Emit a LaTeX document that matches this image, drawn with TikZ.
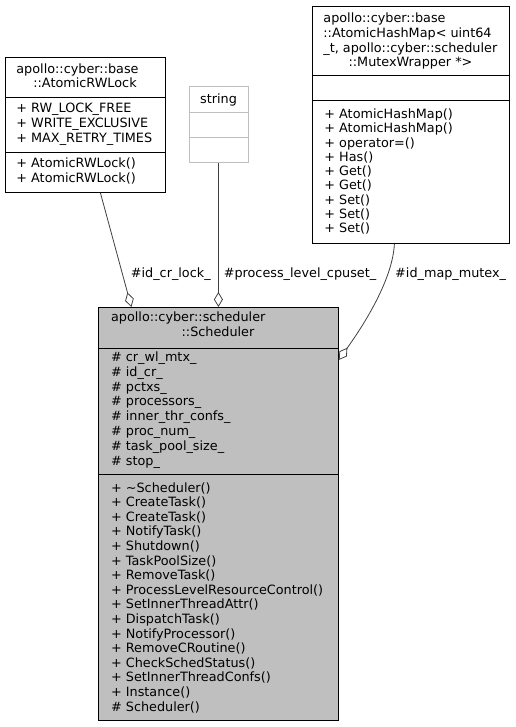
\documentclass[tikz,border=0pt]{standalone}
\usepackage{fontspec}
\setmainfont{DejaVu Sans}
\usetikzlibrary{arrows.meta,positioning}

\definecolor{boxgray}{HTML}{BFBFBF}
\definecolor{edgegray}{HTML}{404040}

\begin{document}
\begin{tikzpicture}[x=1pt, y=-1pt, line width=0.8pt,
    every node/.style={font=\fontsize{12.8}{15}\selectfont, inner sep=0pt},
    klass/.style={draw=black, fill=white, anchor=north west},
    member/.style={anchor=base west},
    title/.style={anchor=base},
    agg/.style={draw=edgegray, -{Diamond[open, length=15pt, width=9pt]}}]
   \useasboundingbox (0,0) rectangle (515,727);

   % class boxes
   \node[klass, minimum width=160pt, minimum height=135pt] (rwlock) at (5,57) {};
   \node[klass, draw=boxgray, minimum width=59pt, minimum height=76pt] (string) at (189,86) {};
   \node[klass, minimum width=197pt, minimum height=237pt] (hashmap) at (312,6) {};
   \node[klass, fill=boxgray, minimum width=240pt, minimum height=413pt] (sched) at (98,307) {};

   % compartments
   \draw (5,97) -- (165,97) (5,152) -- (165,152);
   \draw[boxgray] (189,112) -- (248,112) (189,137) -- (248,137);
   \draw (312,75) -- (509,75) (312,100) -- (509,100);
   \draw (98,348) -- (338,348) (98,474) -- (338,474);

   % AtomicRWLock
   \node[member] at (16,73.5) {apollo::cyber::base};
   \node[title] at (85,87.5) {::AtomicRWLock};
   \foreach \m [count=\i from 0] in {+ RW\_LOCK\_FREE, + WRITE\_EXCLUSIVE, + MAX\_RETRY\_TIMES}
      \node[member] at (16,{112.5+15*\i}) {\m};
   \foreach \m [count=\i from 0] in {+ AtomicRWLock(), + AtomicRWLock()}
      \node[member] at (16,{167.5+15*\i}) {\m};

   % string
   \node[title] at (218.5,103.5) {string};

   % AtomicHashMap
   \foreach \m [count=\i from 0] in {apollo::cyber::base, ::AtomicHashMap< uint64, {\_t, apollo::cyber::scheduler}}
      \node[member] at (323,{22.5+14.8*\i}) {\m};
   \node[title] at (410.5,66.9) {::MutexWrapper *>};
   \foreach \m [count=\i from 0] in {+ AtomicHashMap(), + AtomicHashMap(), + operator=(), + Has(),
         + Get(), + Get(), + Set(), + Set(), + Set()}
      \node[member] at (324,{118.5+14.3*\i}) {\m};

   % Scheduler
   \node[member] at (110.7,321.5) {apollo::cyber::scheduler};
   \node[title] at (218,336.5) {::Scheduler};
   \foreach \m [count=\i from 0] in {\# cr\_wl\_mtx\_, \# id\_cr\_, \# pctxs\_, \# processors\_,
         \# inner\_thr\_confs\_, \# proc\_num\_, \# task\_pool\_size\_, \# stop\_}
      \node[member] at (110.7,{361.5+14.8*\i}) {\m};
   \foreach \m [count=\i from 0] in {+ \textasciitilde Scheduler(), + CreateTask(), + CreateTask(),
         + NotifyTask(), + Shutdown(), + TaskPoolSize(), + RemoveTask(),
         + ProcessLevelResourceControl(), + SetInnerThreadAttr(), + DispatchTask(),
         + NotifyProcessor(), + RemoveCRoutine(), + CheckSchedStatus(),
         + SetInnerThreadConfs(), + Instance(), \# Scheduler()}
      \node[member] at (110.7,{492+14.6*\i}) {\m};

   % relations
   \path ([xshift=15pt]rwlock.south) edge[agg] node[pos=0.713, anchor=west, xshift=8pt] {\#id\_cr\_lock\_} ([xshift=-87pt]sched.north)
         ([xshift=-0.5pt]string.south) edge[agg] node[pos=0.772, anchor=west, xshift=5pt] {\#process\_level\_cpuset\_} (sched.north);
   \draw[agg] ([xshift=-16.5pt]hashmap.south) .. controls +(-2,42) and +(14,-20) .. node[pos=0.23, anchor=west, xshift=7pt] {\#id\_map\_mutex\_} ([yshift=-53pt]sched.north east);
\end{tikzpicture}
\end{document}
